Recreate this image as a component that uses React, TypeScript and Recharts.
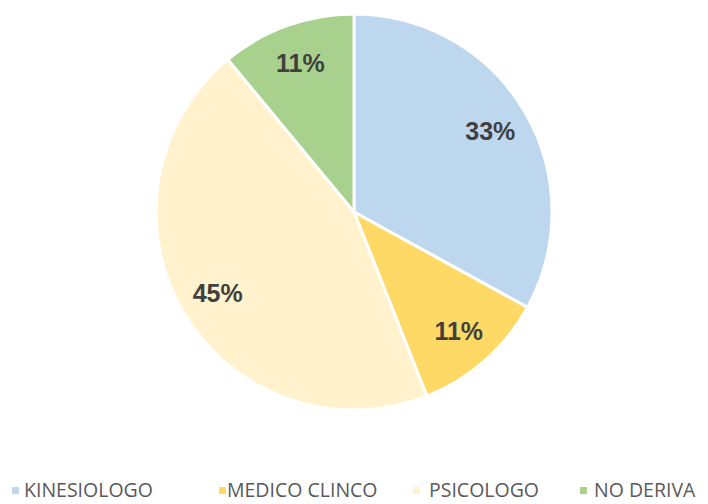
import React from "react";
import { PieChart, Pie, Cell, Legend } from "recharts";

const categories = ["KINESIOLOGO", "MEDICO CLINCO", "PSICOLOGO", "NO DERIVA"];
const values = [33, 11, 45, 11];
const colors = ["#BDD7EE", "#FFD966", "#FFF2CC", "#A9D18E"];

const data = categories.map((name, i) => ({ name, value: values[i] }));

const RADIAN = Math.PI / 180;

const renderLabel = (props: any) => {
  const { cx, cy, midAngle, outerRadius, value } = props;
  const r = outerRadius * 0.8;
  const x = cx + r * Math.cos(-midAngle * RADIAN);
  const y = cy + r * Math.sin(-midAngle * RADIAN);
  return (
    <text
      x={x}
      y={y}
      fill="#404040"
      textAnchor="middle"
      dominantBaseline="central"
      style={{ fontFamily: "Liberation Sans, Arial, sans-serif", fontWeight: 700, fontSize: 25 }}
    >
      {`${value}%`}
    </text>
  );
};

const markerX = [12, 219, 413, 580];
const textX = [24, 227, 429, 594];

const renderLegend = () => (
  <div style={{ position: "relative", width: 708, height: 18 }}>
    {categories.map((c, i) => (
      <React.Fragment key={c}>
        <span
          style={{
            position: "absolute",
            left: markerX[i],
            top: 6,
            width: 7,
            height: 7,
            background: colors[i],
          }}
        />
        <span
          style={{
            position: "absolute",
            left: textX[i],
            top: 0,
            fontFamily: "'Open Sans', sans-serif",
            fontSize: 19.5,
            lineHeight: "18px",
            color: "#595959",
            whiteSpace: "nowrap",
          }}
        >
          {c}
        </span>
      </React.Fragment>
    ))}
  </div>
);

export default function App() {
  return (
    <div style={{ position: "absolute", left: 0, top: 0, width: 708, height: 504, background: "#fff", overflow: "hidden" }}>
      <PieChart width={708} height={504} margin={{ top: 0, right: 0, bottom: 0, left: 0 }}>
        <Pie
          data={data}
          dataKey="value"
          nameKey="name"
          cx={354}
          cy={212}
          outerRadius={198}
          startAngle={90}
          endAngle={-270}
          stroke="#ffffff"
          strokeWidth={3}
          label={renderLabel}
          labelLine={false}
          isAnimationActive={false}
        >
          {data.map((d, i) => (
            <Cell key={d.name} fill={colors[i]} />
          ))}
        </Pie>
        <Legend
          content={renderLegend}
          wrapperStyle={{ position: "absolute", left: 0, top: 481, width: 708, height: 18 }}
        />
      </PieChart>
    </div>
  );
}
